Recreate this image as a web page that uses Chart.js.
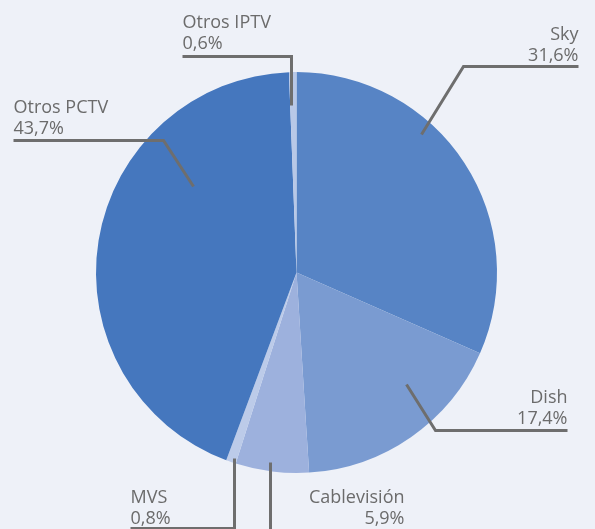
<!DOCTYPE html>
<html>
<head>
<meta charset="utf-8">
<script src="https://cdn.jsdelivr.net/npm/chart.js@4"></script>
<style>
  html, body { margin: 0; padding: 0; background: #eef1f8; }
  #wrap { width: 595px; height: 529px; }
</style>
</head>
<body>
<div id="wrap"><canvas id="pie" width="595" height="529"></canvas></div>
<script>
// shares of the pay-TV market, clockwise from 12 o'clock
const labels = ['Sky', 'Dish', 'Cablevisión', 'MVS', 'Otros PCTV', 'Otros IPTV'];
const shares = [31.6, 17.4, 5.9, 0.8, 43.7, 0.6];
const valueLabels = ['31,6%', '17,4%', '5,9%', '0,8%', '43,7%', '0,6%'];
const colors = ['#5784c5', '#7a9bd1', '#9db1dd', '#bccbe9', '#4577be', '#b8c8e7'];

// callout layout, offsets from the pie centre: line path + text anchor
const callouts = [
  { path: [[125, -138], [167, -206], [282, -206]], tx: 282, ty: -233, align: 'right' },
  { path: [[110, 112], [139, 158], [271, 158]], tx: 271, ty: 130, align: 'right' },
  { path: [[-26, 190], [-26, 260]], tx: 108, ty: 230, align: 'right' },
  { path: [[-62, 186], [-62, 256], [-166, 256]], tx: -166, ty: 230, align: 'left' },
  { path: [[-103, -86], [-133, -132], [-283, -132]], tx: -283, ty: -160, align: 'left' },
  { path: [[-5, -167], [-5, -216], [-114, -216]], tx: -114, ty: -245, align: 'left' }
];

const calloutPlugin = {
  id: 'callouts',
  afterDatasetsDraw(chart){
    const ctx = chart.ctx;
    const arc = chart.getDatasetMeta(0).data[0];
    if(!arc) return;
    const cx = arc.x, cy = arc.y;
    ctx.save();
    ctx.strokeStyle = '#6e6e6e';
    ctx.lineWidth = 3;
    ctx.lineJoin = 'miter';
    callouts.forEach((c, i) => {
      ctx.beginPath();
      c.path.forEach((p, j) => {
        if(j === 0) ctx.moveTo(cx + p[0], cy + p[1]);
        else ctx.lineTo(cx + p[0], cy + p[1]);
      });
      ctx.stroke();

      ctx.fillStyle = '#6b6b6b';
      ctx.font = '18px "Open Sans", sans-serif';
      ctx.textAlign = c.align;
      ctx.textBaseline = 'alphabetic';
      ctx.fillText(labels[i], cx + c.tx, cy + c.ty);
      ctx.fillText(valueLabels[i], cx + c.tx, cy + c.ty + 21);
    });
    ctx.restore();
  }
};

function initPie(){
  const canvas = document.getElementById('pie');
  if(!canvas) return;
  function create(){
    if(typeof Chart === 'undefined'){ setTimeout(create, 50); return; }
    new Chart(canvas.getContext('2d'), {
      type: 'pie',
      data: {
        labels: labels,
        datasets: [{
          data: shares,
          backgroundColor: colors,
          borderWidth: 0
        }]
      },
      options: {
        responsive: false,
        animation: false,
        layout: { padding: { left: 96, right: 98, top: 72, bottom: 56 } },
        plugins: { legend: { display: false }, tooltip: { enabled: false } }
      },
      plugins: [calloutPlugin]
    });
  }
  create();
}

if(document.readyState === 'loading'){
  document.addEventListener('DOMContentLoaded', initPie);
} else {
  initPie();
}
</script>
</body>
</html>
